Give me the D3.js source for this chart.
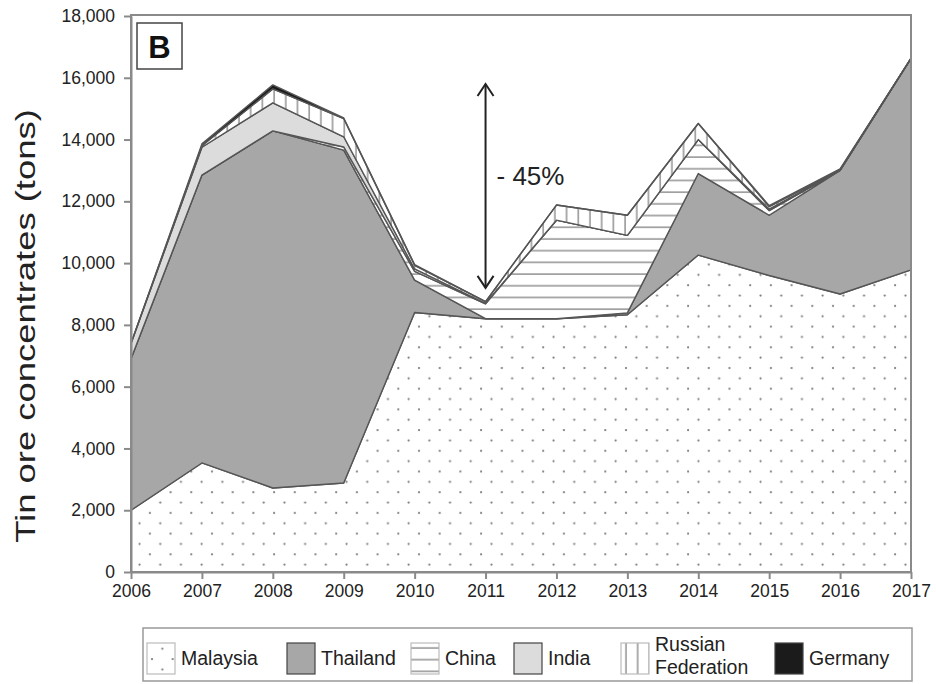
<!DOCTYPE html>
<html>
<head>
<meta charset="utf-8">
<script src="https://cdn.jsdelivr.net/npm/d3@7"></script>
<style>
  body { margin: 0; background: #fff; }
  svg { font-family: "Liberation Sans", Arial, sans-serif; }
</style>
</head>
<body>
<div class="chart-wrapper"></div>
<script>
let w = 936;
let h = 684;
let plotLeft = 131, plotRight = 911, plotTop = 16, plotBottom = 572;

// data (tons)
let years = [2006, 2007, 2008, 2009, 2010, 2011, 2012, 2013, 2014, 2015, 2016, 2017];
let malaysia = [2000, 3530, 2720, 2880, 8400, 8200, 8200, 8330, 10260, 9600, 9000, 9780];
let thailand = [4900, 9320, 11560, 10780, 1050, 0, 0, 60, 2640, 1950, 4000, 6850];
let china    = [0, 0, 0, 100, 280, 480, 3190, 2510, 1100, 150, 0, 0];
let india    = [500, 900, 910, 330, 80, 20, 0, 0, 0, 50, 0, 0];
let russia   = [0, 50, 450, 590, 120, 50, 490, 650, 520, 80, 30, 0];
let germany  = [0, 60, 130, 20, 20, 0, 0, 0, 0, 30, 20, 0];

let countries = ["Malaysia", "Thailand", "China", "India", "Russian Federation", "Germany"];
let yTicks = [0, 2000, 4000, 6000, 8000, 10000, 12000, 14000, 16000, 18000];
let arrowValues = [15800, 9200]; // drop marker at 2011
let arrowYear = 2011;
let arrowLabel = "- 45%";

let series = [malaysia, thailand, china, india, russia, germany];
let table = years.map((yr, i) => {
  let row = {year: yr};
  countries.forEach((c, k) => row[c] = series[k][i]);
  return row;
});

let fills = {
  "Malaysia": "url(#dots)",
  "Thailand": "#a7a7a7",
  "China": "url(#hlines)",
  "India": "#dcdcdc",
  "Russian Federation": "url(#vlines)",
  "Germany": "#1b1b1b"
};

let viz = d3.select(".chart-wrapper")
  .append("svg")
  .attr("width", w)
  .attr("height", h)
  .style("background-color", "#fff");

// patterns
let defs = viz.append("defs");
let dots = defs.append("pattern").attr("id", "dots").attr("patternUnits", "userSpaceOnUse")
  .attr("width", 20.7).attr("height", 20.7).attr("x", 0).attr("y", 572 - 2);
dots.append("rect").attr("width", 20.7).attr("height", 20.7).attr("fill", "#fff");
dots.append("circle").attr("cx", 5).attr("cy", 5).attr("r", 1.1).attr("fill", "#7a7a7a");
dots.append("circle").attr("cx", 15.35).attr("cy", 15.35).attr("r", 1.1).attr("fill", "#7a7a7a");

let hl = defs.append("pattern").attr("id", "hlines").attr("patternUnits", "userSpaceOnUse")
  .attr("width", 12).attr("height", 11.7);
hl.append("rect").attr("width", 12).attr("height", 11.7).attr("fill", "#fff");
hl.append("line").attr("x1", 0).attr("x2", 12).attr("y1", 5).attr("y2", 5)
  .attr("stroke", "#999").attr("stroke-width", 1.6);

let vl = defs.append("pattern").attr("id", "vlines").attr("patternUnits", "userSpaceOnUse")
  .attr("width", 11.7).attr("height", 12);
vl.append("rect").attr("width", 11.7).attr("height", 12).attr("fill", "#fff");
vl.append("line").attr("y1", 0).attr("y2", 12).attr("x1", 5).attr("x2", 5)
  .attr("stroke", "#999").attr("stroke-width", 1.6);

let xScale = d3.scaleLinear().domain([2006, 2017]).range([plotLeft, plotRight]);
let yScale = d3.scaleLinear().domain([0, 18000]).range([plotBottom, plotTop]);

// stacked areas
let stack = d3.stack().keys(countries);
let layers = stack(table);
let area = d3.area()
  .x(d => xScale(d.data.year))
  .y0(d => yScale(d[0]))
  .y1(d => yScale(d[1]));

viz.append("g").attr("class", "areas")
  .selectAll("path")
  .data(layers)
  .enter()
  .append("path")
  .attr("d", area)
  .attr("fill", d => fills[d.key])
  .attr("stroke", "#555")
  .attr("stroke-width", 1.4)
  .attr("stroke-linejoin", "round");

// frame
viz.append("rect")
  .attr("x", plotLeft).attr("y", plotTop - 1)
  .attr("width", plotRight - plotLeft).attr("height", plotBottom - plotTop + 1)
  .attr("fill", "none").attr("stroke", "#8a8a8a").attr("stroke-width", 2);

// axes
let yAxis = d3.axisLeft(yScale).tickValues(yTicks).tickFormat(d3.format(",")).tickSize(7).tickPadding(9).tickSizeOuter(0);
let yAxisGroup = viz.append("g").attr("transform", "translate(" + plotLeft + ",0)").call(yAxis);
let xAxis = d3.axisBottom(xScale).tickValues(years).tickFormat(d3.format("d")).tickSize(7).tickPadding(6).tickSizeOuter(0);
let xAxisGroup = viz.append("g").attr("transform", "translate(0," + plotBottom + ")").call(xAxis);

[yAxisGroup, xAxisGroup].forEach(g => {
  g.select(".domain").attr("stroke", "#8a8a8a").attr("stroke-width", 2);
  g.selectAll(".tick line").attr("stroke", "#8a8a8a").attr("stroke-width", 2);
  g.selectAll(".tick text").attr("fill", "#222").style("font-size", "17.5px");
});

// axis title, stretched along its length like the source figure
viz.append("text")
  .attr("transform", "translate(35,326) rotate(-90) scale(1.3,1)")
  .attr("text-anchor", "middle")
  .attr("fill", "#222")
  .style("font-size", "28px")
  .text("Tin ore concentrates (tons)");

// panel letter
viz.append("rect").attr("x", 137).attr("y", 23).attr("width", 45).attr("height", 46)
  .attr("fill", "#fff").attr("stroke", "#444").attr("stroke-width", 1.5);
viz.append("text").attr("x", 159.5).attr("y", 58).attr("text-anchor", "middle")
  .style("font-size", "31px").style("font-weight", "bold").attr("fill", "#111").text("B");

// arrow
let ax = xScale(arrowYear);
let aTop = yScale(arrowValues[0]), aBot = yScale(arrowValues[1]);
let arrow = viz.append("g").attr("stroke", "#222").attr("stroke-width", 2).attr("fill", "none");
arrow.append("line").attr("x1", ax).attr("x2", ax).attr("y1", aTop).attr("y2", aBot);
arrow.append("path").attr("d", "M" + (ax - 8) + "," + (aTop + 12) + "L" + ax + "," + aTop + "L" + (ax + 8) + "," + (aTop + 12));
arrow.append("path").attr("d", "M" + (ax - 8) + "," + (aBot - 12) + "L" + ax + "," + aBot + "L" + (ax + 8) + "," + (aBot - 12));
viz.append("text").attr("x", ax + 11).attr("y", 185)
  .style("font-size", "26px").attr("fill", "#222").text(arrowLabel);

// legend
viz.append("rect").attr("x", 143).attr("y", 628).attr("width", 769).attr("height", 53)
  .attr("fill", "#fff").attr("stroke", "#999").attr("stroke-width", 1.5);
let legendX = [147, 287, 411, 514, 621, 775];
let legend = viz.append("g").selectAll("g").data(countries).enter().append("g")
  .attr("transform", (d, i) => "translate(" + legendX[i] + ",643)");
legend.append("rect").attr("width", 28).attr("height", 31)
  .attr("fill", d => fills[d]).attr("stroke", d => d == "Malaysia" || d == "China" || d == "Russian Federation" ? "#bbb" : "#444")
  .attr("stroke-width", 1.2);
legend.each(function(d) {
  let g = d3.select(this);
  let words = d == "Russian Federation" ? ["Russian", "Federation"] : [d];
  let t = g.append("text").attr("x", 34).attr("fill", "#222").style("font-size", "19.5px");
  if (words.length == 1) {
    t.attr("y", 22).text(d);
  } else {
    t.append("tspan").attr("x", 34).attr("y", 8).text(words[0]);
    t.append("tspan").attr("x", 34).attr("y", 31).text(words[1]);
  }
});
</script>
</body>
</html>
